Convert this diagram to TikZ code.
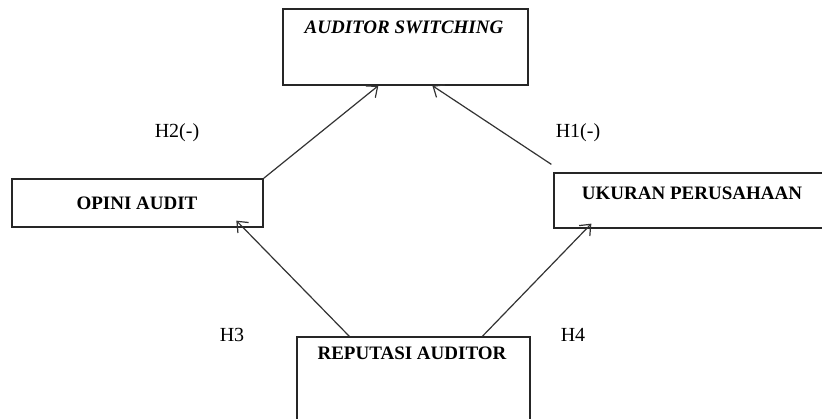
\documentclass[tikz,border=0pt]{standalone}
\usepackage{fontspec}
\setmainfont{Liberation Serif}
\usetikzlibrary{arrows.meta,calc}
\tikzset{
  box/.style={draw=black!85, line width=1.3pt, rectangle, inner sep=0pt},
  boxtext/.style={font=\fontsize{19}{21}\selectfont\bfseries, inner sep=0pt},
  hyp/.style={font=\fontsize{20}{22}\selectfont, inner sep=0pt},
  link/.style={draw=black!80, line width=1.2pt, -{Straight Barb[length=9pt,width=15pt,line width=1.2pt]}}
}
\begin{document}
\begin{tikzpicture}[x=1pt,y=-1pt]
\clip (0,0) rectangle (822,418);
\fill[white] (0,0) rectangle (822,418);
% boxes
\node[box, minimum width=245pt, minimum height=76pt] (AS) at (405.5,47) {};
\node[box, minimum width=251pt, minimum height=48pt] (OA) at (137.5,203) {};
\node[box, minimum width=281pt, minimum height=55pt] (UP) at (694.5,200.5) {};
\node[box, minimum width=233pt, minimum height=100pt] (RA) at (413.5,387) {};
% box texts
\node[boxtext, font=\fontsize{19}{21}\selectfont\bfseries\itshape] (ASt) at (404,27) {AUDITOR SWITCHING};
\node[boxtext] (OAt) at (137,203) {OPINI AUDIT};
\node[boxtext] (UPt) at (692,193) {UKURAN PERUSAHAAN};
\node[boxtext] (RAt) at (412,353) {REPUTASI AUDITOR};
% connector end points
\coordinate (asL) at ($(AS.south west)+(96,0)$);
\coordinate (asR) at ($(AS.south west)+(150,0)$);
\coordinate (upS) at ($(UP.north west)+(-2,-8)$);
\coordinate (raL) at ($(RA.north west)+(53,0)$);
\coordinate (raR) at ($(RA.north west)+(186,0)$);
\coordinate (oaT) at ($(OA.south west)+(225,-7)$);
\coordinate (upT) at ($(UP.south west)+(38,-5)$);
% connectors
\draw[link] (OA.north east) -- (asL);
\draw[link] (upS) -- (asR);
\draw[link] (raL) -- (oaT);
\draw[link] (raR) -- (upT);
% hypothesis labels
\node[hyp] (h2) at (177,133) {H2(-)};
\node[hyp] (h1) at (578,133) {H1(-)};
\node[hyp] (h3) at (232,335) {H3};
\node[hyp] (h4) at (573,335) {H4};
\end{tikzpicture}
\end{document}
